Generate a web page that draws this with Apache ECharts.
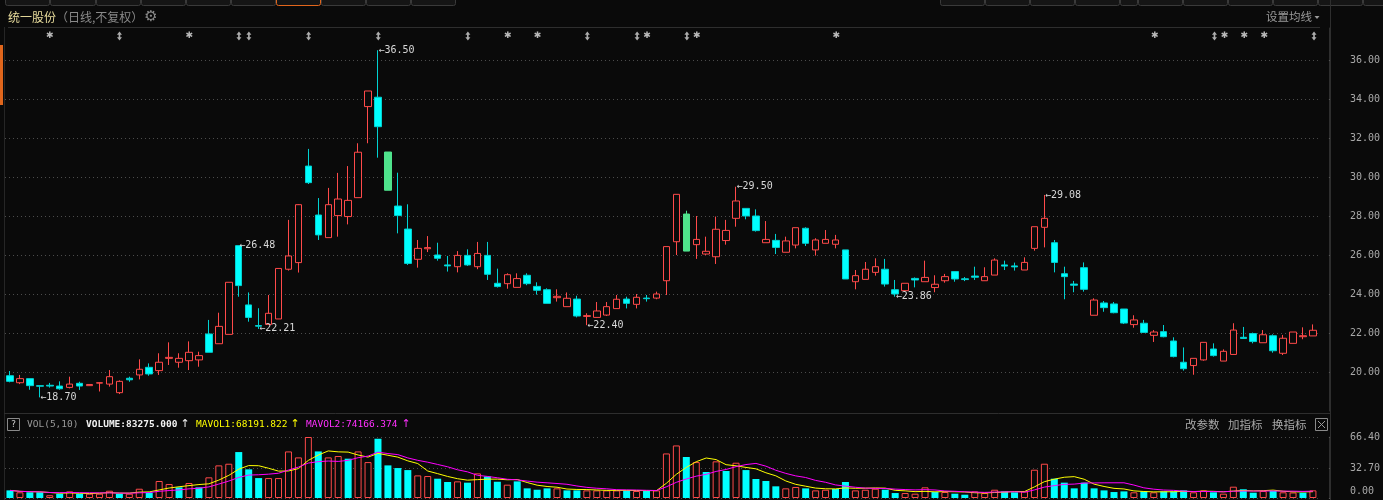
<!DOCTYPE html>
<html><head><meta charset="utf-8">
<script src="https://cdn.jsdelivr.net/npm/echarts@6/dist/echarts.min.js"></script>
<style>html,body{margin:0;padding:0;background:#0a0a0a;}#c{width:1383px;height:500px;}</style>
</head><body><div id="c"></div>
<script>
// ---- data (price in 元, volume in 万手) ----
const opens = [19.81,19.45,19.66,19.30,19.32,19.28,19.21,19.42,19.30,19.43,
19.38,18.94,19.68,19.85,20.24,20.07,20.70,20.50,20.58,20.62,
21.95,21.45,21.93,26.48,23.44,22.38,22.44,22.72,25.27,25.61,
30.56,28.05,26.89,28.02,27.97,28.94,33.61,34.09,31.28,28.51,
27.33,25.78,26.32,26.00,25.49,25.40,25.98,25.40,25.98,24.55,
24.53,24.34,24.96,24.39,24.22,23.81,23.35,23.74,22.85,22.80,
22.92,23.25,23.74,23.47,23.79,23.79,24.68,26.68,28.10,26.53,
26.05,25.91,26.74,27.88,28.39,28.00,26.63,26.75,26.14,26.51,
27.37,26.26,26.60,26.55,26.26,24.63,24.75,25.11,25.27,24.22,
24.17,24.80,24.63,24.33,24.68,25.15,24.78,24.92,24.68,24.97,
25.49,25.44,25.23,26.34,27.42,26.63,25.04,24.51,25.35,22.91,
23.54,23.49,23.23,22.43,22.50,21.88,22.07,21.59,20.50,20.33,
20.62,21.18,20.56,20.90,21.78,21.97,21.50,21.86,20.96,21.47,
21.81,21.85];
const closes = [19.52,19.66,19.30,19.27,19.28,19.14,19.38,19.28,19.36,19.45,
19.76,19.52,19.60,20.14,19.90,20.50,20.75,20.70,21.01,20.84,
21.01,22.34,24.60,24.43,22.80,22.35,23.01,25.31,25.95,28.58,
29.71,27.03,28.58,28.87,28.80,31.27,34.41,32.58,29.32,28.02,
25.57,26.34,26.38,25.83,25.44,25.98,25.49,26.08,25.01,24.38,
24.99,24.79,24.53,24.19,23.52,23.88,23.78,22.87,22.89,23.13,
23.35,23.73,23.52,23.83,23.76,24.00,26.43,29.11,26.20,26.80,
26.19,27.32,27.26,28.77,28.00,27.25,26.80,26.39,26.72,27.40,
26.60,26.77,26.80,26.77,24.77,24.94,25.27,25.40,24.51,24.00,
24.55,24.72,24.85,24.50,24.89,24.77,24.74,24.86,24.89,25.74,
25.43,25.39,25.62,27.45,27.88,25.62,24.89,24.45,24.24,23.69,
23.30,23.04,22.51,22.67,22.03,22.05,21.81,20.79,20.17,20.70,
21.52,20.84,21.06,22.15,21.72,21.56,21.91,21.09,21.73,22.05,
21.86,22.14];
const lows = [19.47,19.38,19.09,18.70,19.20,19.09,19.16,19.08,19.29,19.00,
19.25,18.87,19.50,19.62,19.81,19.85,20.36,20.22,20.10,20.27,
21.01,21.45,21.93,23.86,22.58,22.21,22.44,22.72,25.20,25.10,
29.64,26.77,26.89,26.94,27.57,28.94,31.73,30.99,29.32,27.11,
25.49,25.35,26.15,25.71,25.15,25.11,25.44,25.27,24.72,24.33,
24.27,24.34,24.45,23.97,23.52,23.61,23.35,22.80,22.40,22.80,
22.87,23.25,23.26,23.26,23.61,23.73,23.95,26.00,26.20,25.80,
26.00,25.54,26.53,27.45,27.83,27.20,26.63,26.05,26.14,26.34,
26.46,25.97,26.60,26.34,24.77,24.24,24.75,24.94,24.38,23.86,
24.17,24.34,24.63,24.09,24.58,24.63,24.66,24.72,24.68,24.97,
25.23,25.20,25.23,26.22,26.39,25.11,23.73,24.09,24.12,22.91,
23.09,23.01,22.46,22.27,22.03,21.54,21.78,20.75,20.07,19.86,
20.58,20.79,20.56,20.90,21.71,21.47,21.50,20.99,20.87,21.47,
21.68,21.85];
const highs = [20.05,19.85,19.66,19.30,19.44,19.52,19.76,19.50,19.38,19.47,
20.10,19.57,19.76,20.65,20.44,20.96,21.52,20.96,21.57,21.04,
22.67,23.04,24.60,26.48,24.08,23.27,23.95,25.31,27.80,28.60,
31.44,28.92,29.44,30.21,30.56,31.73,34.41,36.50,31.28,30.22,
28.60,26.77,26.97,26.63,25.95,26.20,26.29,26.67,26.67,25.30,
25.06,25.06,25.06,24.60,24.29,24.24,24.08,23.91,23.01,23.59,
23.59,23.95,23.86,24.00,23.95,24.12,26.43,29.11,28.27,28.00,
26.94,27.97,27.80,29.50,28.39,28.34,27.74,27.08,26.94,27.40,
27.42,26.86,27.28,27.03,26.26,25.23,25.64,25.83,25.80,24.72,
24.55,24.85,25.71,24.96,25.03,25.15,24.87,25.40,25.37,25.83,
25.71,25.61,25.88,27.45,29.08,26.77,25.40,24.67,25.62,23.78,
23.64,23.59,23.23,22.91,22.67,22.15,22.41,21.78,21.26,20.70,
21.52,21.47,21.16,22.50,22.31,22.02,22.15,21.93,21.90,22.05,
22.29,22.44];
const volumes = [8.3,6.2,6.2,6.2,3.0,4.7,7.2,4.7,4.7,4.7,
7.9,4.7,4.7,10.1,5.8,18.5,15.2,11.6,16.3,11.6,
22.5,35.5,37.3,50.0,31.2,21.7,21.7,21.7,50.7,44.2,
66.4,50.7,44.2,45.7,42.8,50.7,39.1,64.5,35.5,32.6,
30.4,24.6,23.9,21.0,17.4,18.1,16.7,26.8,23.5,17.7,
14.5,18.1,10.5,9.0,10.5,10.5,8.3,8.3,8.3,8.3,
8.3,8.3,8.3,7.6,7.6,8.3,48.5,57.2,44.6,39.1,
28.3,39.9,29.4,38.4,30.4,20.7,18.5,12.7,10.5,12.0,
10.5,8.3,9.0,9.8,17.4,8.3,9.0,10.1,9.0,5.4,
5.4,4.7,11.6,6.5,6.5,4.7,3.6,7.2,5.4,9.0,
7.2,6.2,7.2,30.8,37.3,21.0,16.7,10.5,16.7,10.5,
8.3,6.5,7.2,6.2,7.2,6.2,7.2,7.2,8.3,6.2,
8.3,6.2,4.7,12.3,9.5,5.8,7.6,7.8,6.2,6.0,
5.8,8.33];
const categories = opens.map((_, i) => 'D' + (i + 1));
const priceTicks = [20, 22, 24, 26, 28, 30, 32, 34, 36];
const volTicks = [0, 32.70, 66.40];
const eventStars = [4, 18, 50, 53, 64, 69, 83, 115, 122, 124, 126];
const eventArrows = [11, 23, 24, 30, 37, 46, 58, 63, 68, 121, 131];
const extremes = [[3,'low'],[23,'high'],[25,'low'],[37,'high'],[58,'low'],[73,'high'],[89,'low'],[104,'high']];
const volHeader = ['VOL(5,10)', 'VOLUME:83275.000', 'MAVOL1:68191.822', 'MAVOL2:74166.374'];

// ---- styling ----
const BG = '#0a0a0a', RED = '#ff4a4a', CYAN = '#00ffff', WICK0 = '#00d2d2', GREEN = '#4fe38c';
const MONO = '"DejaVu Sans Mono", monospace';
const CJK = '"Noto Sans CJK SC", sans-serif';

const candleData = opens.map((o, i) => {
  const item = { value: [o, closes[i], lows[i], highs[i]] };
  if (i > 0 && closes[i] <= closes[i - 1] * 0.905) item.itemStyle = { color0: GREEN, borderColor0: GREEN };
  return item;
});
const volData = volumes.map((v, i) => {
  const prev = i > 0 ? closes[i - 1] : opens[i];
  const up = closes[i] >= prev;
  return { value: v, itemStyle: up ? { color: BG, borderColor: RED, borderWidth: 1 } : { color: CYAN, borderColor: CYAN, borderWidth: 0 } };
});
function ma(n) {
  return volumes.map((_, i) => {
    const s = Math.max(0, i - n + 1); let t = 0;
    for (let k = s; k <= i; k++) t += volumes[k];
    return +(t / (i - s + 1)).toFixed(3);
  });
}

const T = (x, y, text, fill, font, align) => ({ type: 'text', silent: true, z: 10,
  style: { x, y, text, fill, font, textAlign: align || 'left', textVerticalAlign: 'middle' } });
const L = (x1, y1, x2, y2, stroke) => ({ type: 'line', silent: true, z: 5, shape: { x1, y1, x2, y2 }, style: { stroke, lineWidth: 1 } });

const graphics = [];
// top tab strip
const tabL = [5, 50, 96, 141, 186, 231, 276, 321, 366, 411, 456];
const tabR = [940, 985, 1030, 1075, 1120, 1138, 1183, 1228, 1273, 1318, 1363, 1390];
[tabL, tabR].forEach(edges => {
  for (let k = 0; k < edges.length - 1; k++) {
    const orange = edges[k] === 276;
    graphics.push({ type: 'rect', silent: true, z: 5, shape: { x: edges[k] + 0.5, y: -6, width: edges[k + 1] - edges[k] - 1, height: 11.5, r: 2 },
      style: { fill: '#151515', stroke: orange ? '#e2661c' : '#3a3a3a', lineWidth: 1 } });
  }
});
graphics.push(L(8, 27.5, 1320, 27.5, '#2e2e2e'));
graphics.push(L(1330.5, 0, 1330.5, 500, '#2e2e2e'));
graphics.push(L(4.5, 27, 4.5, 500, '#262626'));
graphics.push({ type: 'rect', silent: true, z: 6, shape: { x: 0, y: 45, width: 3, height: 60 }, style: { fill: '#e0661c' } });
graphics.push(L(4, 413.5, 1330, 413.5, '#2e2e2e'));
// title
graphics.push(T(8, 17, '统一股份', '#e8dc9c', '12px ' + CJK));
graphics.push(T(56, 17, '（日线,不复权）', '#8a8a8a', '12px ' + CJK));
graphics.push(T(151, 17, '⚙', '#8a8a8a', '15px "DejaVu Sans"', 'center'));
graphics.push(T(1266, 17, '设置均线', '#9a9a9a', '11.5px ' + CJK));
graphics.push({ type: 'polygon', silent: true, z: 10, shape: { points: [[1314.5, 16], [1319.5, 16], [1317, 19]] }, style: { fill: '#9a9a9a' } });
// volume header
graphics.push({ type: 'rect', silent: true, z: 10, shape: { x: 7.5, y: 418.5, width: 12, height: 12 }, style: { fill: 'none', stroke: '#8a8a8a', lineWidth: 1 } });
graphics.push(T(13.5, 424.5, '?', '#cfcfcf', '9px ' + MONO, 'center'));
graphics.push(T(27, 424.5, volHeader[0], '#9a9a9a', '9.5px ' + MONO));
graphics.push(T(86, 424.5, volHeader[1], '#f2f2f2', 'bold 9.5px ' + MONO));
graphics.push(T(185, 424.5, '↑', '#f2f2f2', '11px "DejaVu Sans"', 'center'));
graphics.push(T(196, 424.5, volHeader[2], '#ffff00', '9.5px ' + MONO));
graphics.push(T(295, 424.5, '↑', '#ffff00', '11px "DejaVu Sans"', 'center'));
graphics.push(T(306, 424.5, volHeader[3], '#ff30ff', '9.5px ' + MONO));
graphics.push(T(406, 424.5, '↑', '#ff30ff', '11px "DejaVu Sans"', 'center'));
graphics.push(T(1185, 424.5, '改参数', '#a8a8a8', '11.5px ' + CJK));
graphics.push(T(1228, 424.5, '加指标', '#a8a8a8', '11.5px ' + CJK));
graphics.push(T(1272, 424.5, '换指标', '#a8a8a8', '11.5px ' + CJK));
graphics.push({ type: 'rect', silent: true, z: 10, shape: { x: 1315.5, y: 418.5, width: 12, height: 12 }, style: { fill: 'none', stroke: '#8a8a8a', lineWidth: 1 } });
graphics.push(L(1318, 421, 1325, 428, '#9a9a9a'));
graphics.push(L(1325, 421, 1318, 428, '#9a9a9a'));

const gridBase = { left: 5, right: 64 };
const dotted = { show: true, lineStyle: { color: '#4c4c4c', type: [1, 3], width: 1 } };
const hiddenX = (gi) => ({ type: 'category', gridIndex: gi, data: categories, boundaryGap: true, show: false });

const chart = echarts.init(document.getElementById('c'), null, { renderer: 'canvas' });
chart.setOption({
  backgroundColor: BG,
  animation: false,
  grid: [
    Object.assign({ top: 28, bottom: 89 }, gridBase),
    Object.assign({ top: 437, bottom: 2 }, gridBase),
    Object.assign({ top: 31, height: 10 }, gridBase)
  ],
  xAxis: [hiddenX(0), hiddenX(1), hiddenX(2)],
  yAxis: [
    { type: 'value', gridIndex: 0, position: 'right', offset: 11, min: 18, max: 37.64, interval: 2,
      splitLine: dotted,
      axisLine: { show: true, lineStyle: { color: '#2e2e2e' } },
      axisTick: { show: true, length: 2, customValues: priceTicks, lineStyle: { color: '#555' } },
      axisLabel: { customValues: priceTicks, margin: 21, color: '#a8a8a8', fontFamily: MONO, fontSize: 10,
        formatter: v => v.toFixed(2) } },
    { type: 'value', gridIndex: 1, position: 'right', offset: 11, min: 0, max: 66.4, interval: 33.2,
      splitLine: dotted,
      axisLine: { show: true, lineStyle: { color: '#2e2e2e' } },
      axisTick: { show: true, length: 2, customValues: volTicks, lineStyle: { color: '#555' } },
      axisLabel: { customValues: volTicks, margin: 21, color: '#a8a8a8', fontFamily: MONO, fontSize: 10,
        formatter: v => v === 0 ? '{z|0.00}' : v.toFixed(2),
        rich: { z: { color: '#a8a8a8', fontFamily: MONO, fontSize: 10, padding: [0, 0, 14, 0] } } } },
    { type: 'value', gridIndex: 2, min: -1, max: 1, show: false }
  ],
  series: [
    { type: 'candlestick', xAxisIndex: 0, yAxisIndex: 0, barWidth: 7, data: candleData,
      itemStyle: { color: BG, color0: CYAN, borderColor: RED, borderColor0: WICK0, borderWidth: 1 },
      markPoint: {
        symbol: 'circle', symbolSize: 1, itemStyle: { color: 'rgba(0,0,0,0)' },
        label: { show: true, position: 'right', distance: 0, color: '#d8d8d8', fontFamily: MONO, fontSize: 10,
          formatter: p => '←' + p.value.toFixed(2) },
        data: extremes.map(([i, k]) => {
          const v = k === 'high' ? highs[i] : lows[i];
          return { coord: [categories[i], v], value: v };
        })
      } },
    { type: 'bar', xAxisIndex: 1, yAxisIndex: 1, barWidth: 7, data: volData },
    { type: 'line', xAxisIndex: 1, yAxisIndex: 1, data: ma(5), symbol: 'none', lineStyle: { color: '#ffff00', width: 1 }, z: 3 },
    { type: 'line', xAxisIndex: 1, yAxisIndex: 1, data: ma(10), symbol: 'none', lineStyle: { color: '#ff00ff', width: 1 }, z: 3 },
    { type: 'scatter', xAxisIndex: 2, yAxisIndex: 2, symbol: 'circle', symbolSize: 1, itemStyle: { color: 'rgba(0,0,0,0)' },
      data: eventStars.map(i => [categories[i], 0]),
      label: { show: true, position: 'inside', formatter: '✱', color: '#e6e6e6', fontSize: 9, fontFamily: '"DejaVu Sans"' } },
    { type: 'scatter', xAxisIndex: 2, yAxisIndex: 2,
      symbol: 'path://M3,0 L6,3.5 L4,3.5 L4,6.5 L6,6.5 L3,10 L0,6.5 L2,6.5 L2,3.5 L0,3.5 Z', symbolSize: [5, 9],
      itemStyle: { color: '#d6d6d6' },
      data: eventArrows.map(i => [categories[i], 0]) }
  ],
  graphic: graphics
});
</script></body></html>
